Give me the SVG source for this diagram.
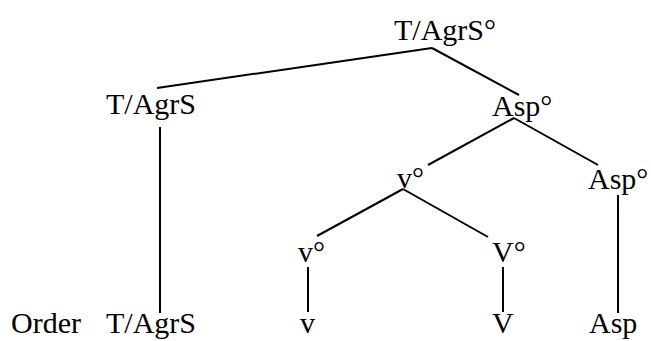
<svg xmlns="http://www.w3.org/2000/svg" width="651" height="341" viewBox="0 0 651 341">
<style>
text{font-family:"Liberation Serif","Times New Roman",serif;font-size:30px;fill:#000}
.e{stroke:#000;stroke-width:2;fill:none}
</style>
<rect width="651" height="341" fill="#fff"/>
<g id="edges">
<line class="e" x1="157" y1="88" x2="432" y2="48"/>
<line class="e" x1="432" y1="48" x2="519" y2="95"/>
<line class="e" x1="160" y1="127" x2="160" y2="313"/>
<line class="e" x1="514" y1="118" x2="428" y2="165"/>
<line class="e" x1="514" y1="118" x2="598" y2="165"/>
<line class="e" x1="618" y1="195" x2="618" y2="313"/>
<line class="e" x1="403" y1="189" x2="317" y2="236"/>
<line class="e" x1="403" y1="189" x2="488" y2="237"/>
<line class="e" x1="308" y1="267" x2="308" y2="312"/>
<line class="e" x1="503" y1="267" x2="503" y2="312"/>
</g>
<g id="n-top"><text x="394" y="40">T/AgrS°</text></g>
<g id="n-tagrs"><text x="106" y="114">T/AgrS</text></g>
<g id="n-asp1"><text x="492" y="116">Asp°</text></g>
<g id="n-v1"><text x="397" y="188">v°</text></g>
<g id="n-asp2"><text x="588" y="189">Asp°</text></g>
<g id="n-v2"><text x="298" y="262">v°</text></g>
<g id="n-V2"><text x="492" y="262">V°</text></g>
<g id="n-order"><text x="11" y="333">Order</text></g>
<g id="n-tagrs2"><text x="106" y="333">T/AgrS</text></g>
<g id="n-v3"><text x="300" y="333">v</text></g>
<g id="n-V3"><text x="492" y="333">V</text></g>
<g id="n-asp3"><text x="589" y="333">Asp</text></g>
</svg>
